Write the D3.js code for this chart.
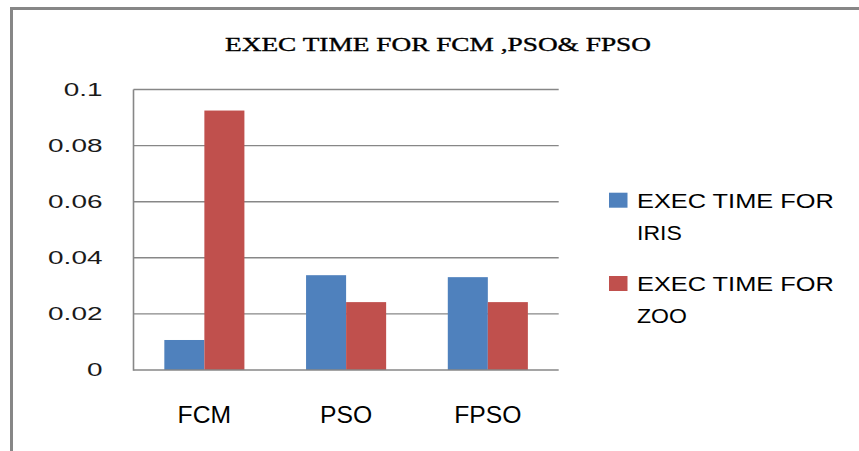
<!DOCTYPE html>
<html>
<head>
<meta charset="utf-8">
<script src="https://cdn.jsdelivr.net/npm/d3@7"></script>
<style>
  html, body { margin: 0; padding: 0; background: #ffffff; }
  svg { display: block; }
</style>
</head>
<body>
<script>
// Execution time per algorithm, two datasets
const categories = ["FCM", "PSO", "FPSO"];
const seriesNames = ["EXEC TIME FOR IRIS", "EXEC TIME FOR ZOO"];
const irisTimes = [0.0107, 0.0338, 0.0331];
const zooTimes = [0.0925, 0.0242, 0.0242];
const yTicks = [0, 0.02, 0.04, 0.06, 0.08, 0.1];
const yTickLabels = ["0", "0.02", "0.04", "0.06", "0.08", "0.1"];
const legendLines = [["EXEC TIME FOR", "IRIS"], ["EXEC TIME FOR", "ZOO"]];
const titleText = "EXEC TIME FOR FCM ,PSO& FPSO";

const colors = ["#4F81BD", "#C0504D"];
const gridColor = "#878787";

const W = 859, H = 451;
const svg = d3.select("body").append("svg")
  .attr("width", W).attr("height", H);

// outer frame (only top and left edges fall inside the view)
svg.append("rect").attr("x", 10).attr("y", 7).attr("width", 849).attr("height", 3).attr("fill", gridColor);
svg.append("rect").attr("x", 10).attr("y", 7).attr("width", 3).attr("height", 444).attr("fill", gridColor);

// title
svg.append("text")
  .attr("x", 225).attr("y", 51)
  .attr("font-family", "'Liberation Serif', 'Times New Roman', serif")
  .attr("font-size", 19)
  .attr("textLength", 426)
  .attr("lengthAdjust", "spacingAndGlyphs")
  .attr("fill", "#000")
  .attr("stroke", "#000")
  .attr("stroke-width", 0.35)
  .text(titleText);

const plot = { left: 133.5, right: 558.7, top: 89.5, bottom: 370 };

const x0 = d3.scaleBand()
  .domain(categories)
  .range([plot.left, plot.right])
  .paddingInner(0.435)
  .paddingOuter(0.2175);

const x1 = d3.scaleBand()
  .domain(seriesNames)
  .range([0, x0.bandwidth()]);

const y = d3.scaleLinear()
  .domain([0, 0.1])
  .range([plot.bottom, plot.top]);

// horizontal gridlines
svg.append("g")
  .selectAll("line")
  .data(yTicks.filter(d => d > 0))
  .join("line")
  .attr("x1", plot.left).attr("x2", plot.right)
  .attr("y1", d => y(d)).attr("y2", d => y(d))
  .attr("stroke", gridColor)
  .attr("stroke-width", 1.4);

// bars
const rows = categories.map((c, i) => ({ cat: c, values: [irisTimes[i], zooTimes[i]] }));
svg.append("g")
  .selectAll("g")
  .data(rows)
  .join("g")
  .attr("transform", d => `translate(${x0(d.cat)},0)`)
  .selectAll("rect")
  .data(d => d.values.map((v, k) => ({ name: seriesNames[k], v, k })))
  .join("rect")
  .attr("x", d => x1(d.name))
  .attr("width", x1.bandwidth())
  .attr("y", d => y(d.v))
  .attr("height", d => y(0) - y(d.v))
  .attr("fill", d => colors[d.k]);

// axis lines
svg.append("line")
  .attr("x1", plot.left).attr("x2", plot.left)
  .attr("y1", plot.top).attr("y2", plot.bottom + 0.7)
  .attr("stroke", gridColor).attr("stroke-width", 1.6);
svg.append("line")
  .attr("x1", plot.left).attr("x2", plot.right)
  .attr("y1", plot.bottom).attr("y2", plot.bottom)
  .attr("stroke", gridColor).attr("stroke-width", 1.6);

// y tick labels (wide face)
const yLab = svg.append("g")
  .selectAll("text")
  .data(yTicks)
  .join("text")
  .attr("x", 102.5)
  .attr("y", d => y(d))
  .attr("dy", "0.36em")
  .attr("text-anchor", "end")
  .attr("font-family", "'Liberation Sans', Arial, sans-serif")
  .attr("font-size", 17.7)
  .attr("fill", "#1a1a1a")
  .text((d, i) => yTickLabels[i]);
yLab.each(function () {
  const w = this.getComputedTextLength();
  d3.select(this).attr("textLength", w * 1.58).attr("lengthAdjust", "spacingAndGlyphs");
});

// x category labels
svg.append("g")
  .selectAll("text")
  .data(categories)
  .join("text")
  .attr("x", d => x0(d) + x0.bandwidth() / 2)
  .attr("y", 422.7)
  .attr("text-anchor", "middle")
  .attr("font-family", "'Liberation Sans', Arial, sans-serif")
  .attr("font-size", 24.7)
  .attr("fill", "#000")
  .text(d => d);

// legend
const legendTop = [192.7, 276];
const leg = svg.append("g");
legendLines.forEach((lines, k) => {
  leg.append("rect")
    .attr("x", 609).attr("y", legendTop[k])
    .attr("width", 18.5).attr("height", 15)
    .attr("fill", colors[k]);
  lines.forEach((ln, j) => {
    const t = leg.append("text")
      .attr("x", 637)
      .attr("y", legendTop[k] + 15 + j * 32)
      .attr("font-family", "'Liberation Sans', Arial, sans-serif")
      .attr("font-size", 19.5)
      .attr("fill", "#000")
      .text(ln);
    const w = t.node().getComputedTextLength();
    t.attr("textLength", w * (j === 0 ? 1.3 : 1.18)).attr("lengthAdjust", "spacingAndGlyphs");
  });
});
</script>
</body>
</html>
